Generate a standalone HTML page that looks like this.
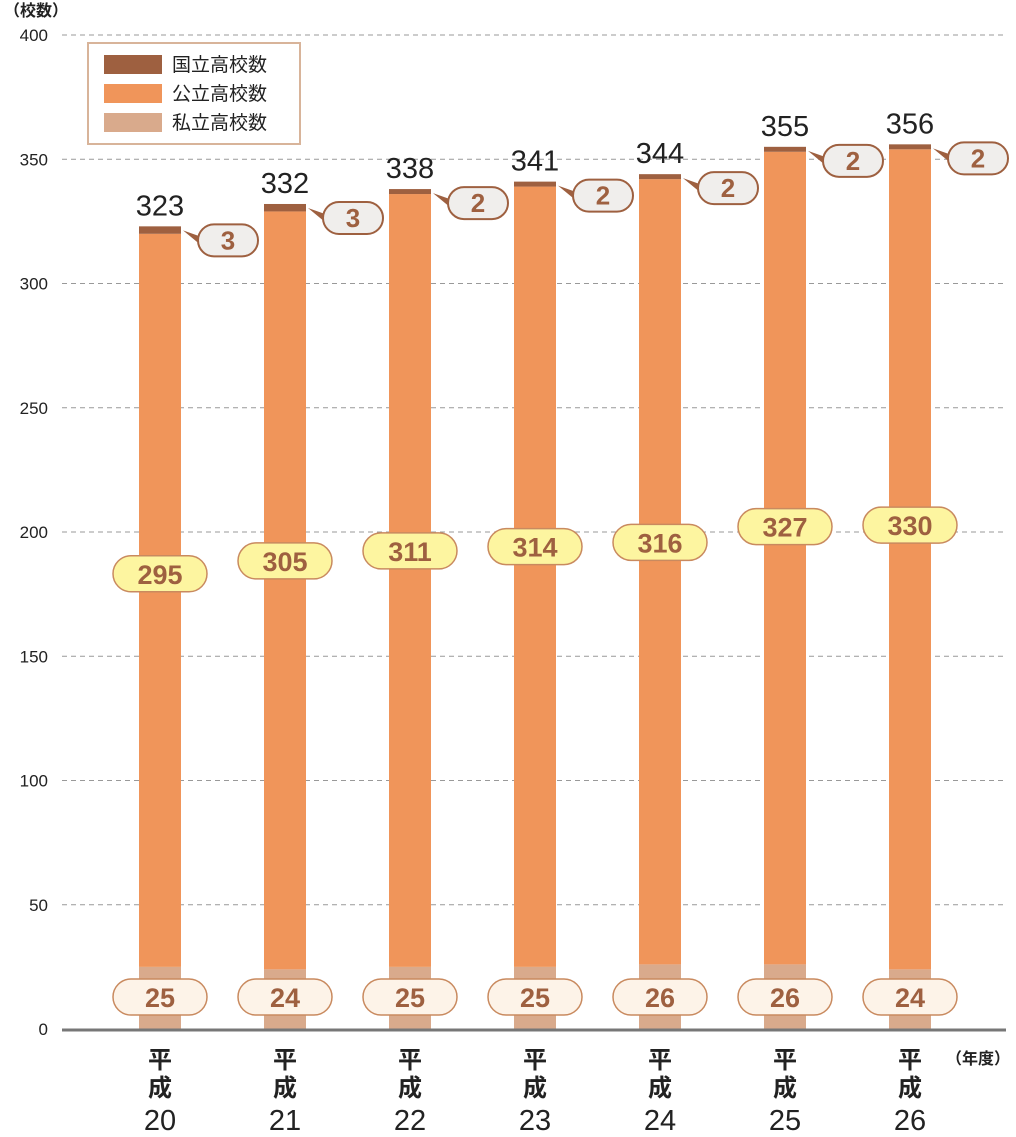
<!DOCTYPE html>
<html><head><meta charset="utf-8"><style>
body{margin:0;background:#fff;}
svg{display:block;font-family:"Liberation Sans","Noto Sans CJK JP",sans-serif;}
</style></head><body>
<svg id="chart" width="1016" height="1137" viewBox="0 0 1016 1137">
<text x="4" y="16" font-size="16" font-weight="bold" fill="#222">（校数）</text>
<g id="grid"></g>
<g id="bars"></g>
<g>
<rect x="88" y="43" width="212" height="101" fill="#fff" stroke="#d8b49a" stroke-width="2"/>
<rect x="104" y="55" width="58" height="19" fill="#9e6040"/>
<text x="172" y="71" font-size="19" fill="#222">国立高校数</text>
<rect x="104" y="84" width="58" height="19" fill="#f0955a"/>
<text x="172" y="100" font-size="19" fill="#222">公立高校数</text>
<rect x="104" y="113" width="58" height="19" fill="#d9aa8c"/>
<text x="172" y="129" font-size="19" fill="#222">私立高校数</text>
</g>
<text x="946" y="1064" font-size="16" font-weight="bold" fill="#222">（年度）</text>
</svg>
<script>
const categories = ["20","21","22","23","24","25","26"];
const nationalVals = [3,3,2,2,2,2,2];
const publicVals = [295,305,311,314,316,327,330];
const privateVals = [25,24,25,25,26,26,24];
const totalVals = [323,332,338,341,344,355,356];
const yTicks = [0,50,100,150,200,250,300,350,400];
const NS="http://www.w3.org/2000/svg";
function y(v){return 1029 - v*2.485;}
function xc(i){return 160 + i*125;}
function mk(p,tag,a,txt){const e=document.createElementNS(NS,tag);for(const k in a)e.setAttribute(k,a[k]);if(txt!==undefined)e.textContent=txt;p.appendChild(e);return e;}
const grid=document.getElementById('grid'), bars=document.getElementById('bars');
yTicks.forEach(t=>{
  if(t>0){const l=mk(grid,'line',{x1:62,x2:1006,y1:y(t),y2:y(t),stroke:'#999','stroke-dasharray':'5,4'});
  
  }
  const tx=mk(grid,'text',{x:48,y:y(t)+6,'font-size':17,fill:'#222','text-anchor':'end'},t);
  
  
});
categories.forEach((c,i)=>{
  const x0=xc(i)-21, w=42;
  const pv=privateVals[i], pu=publicVals[i], na=nationalVals[i];
  const g=mk(bars,'g',{});
  
  
  const r1=mk(g,'rect',{x:x0,y:y(pv),width:w,height:y(0)-y(pv),fill:'#d9aa8c'});
  
  
  const r2=mk(g,'rect',{x:x0,y:y(pv+pu),width:w,height:y(pv)-y(pv+pu),fill:'#f0955a'});
  
  
  const r3=mk(g,'rect',{x:x0,y:y(pv+pu+na),width:w,height:y(pv+pu)-y(pv+pu+na),fill:'#9e6040'});
  
  
  const tt=mk(g,'text',{x:xc(i),y:y(totalVals[i])-11,'font-size':29,fill:'#222','text-anchor':'middle'},totalVals[i]);
  
  
  const ny=y(pv+pu+na)+14, nx=xc(i)+68;
  const tri=mk(g,'path',{d:`M${x0+w+2} ${ny-10} L${nx-28} ${ny-4} L${nx-28} ${ny+4} Z`,fill:'#9e6040'});
  
  
  const cr=mk(g,'rect',{x:nx-30,y:ny-16,width:60,height:32,rx:16,fill:'#f0eeec',stroke:'#9e6040','stroke-width':2});
  
  
  const ct=mk(g,'text',{x:nx,y:ny+9,'font-size':26,'font-weight':'bold',fill:'#9e6040','text-anchor':'middle'},na);
  
  
  const py=y((pv+pu)*0.575)+2;
  const pr=mk(g,'rect',{x:xc(i)-47,y:py-18,width:94,height:36,rx:18,fill:'#fdf5a0',stroke:'#c98a5f','stroke-width':1.5});
  
  
  const pt=mk(g,'text',{x:xc(i),y:py+10,'font-size':27,'font-weight':'bold',fill:'#9e6040','text-anchor':'middle'},pu);
  
  
  const qy=997;
  const qr=mk(g,'rect',{x:xc(i)-47,y:qy-18,width:94,height:36,rx:18,fill:'#fdf3e8',stroke:'#c98a5f','stroke-width':1.5});
  
  
  const qt=mk(g,'text',{x:xc(i),y:qy+10,'font-size':27,'font-weight':'bold',fill:'#9e6040','text-anchor':'middle'},pv);
  
  
  const xl=mk(g,'text',{x:xc(i),y:1068,'font-size':24,'font-weight':'bold',fill:'#222','text-anchor':'middle'},'平');
  
  
  const xl2=mk(g,'text',{x:xc(i),y:1096,'font-size':24,'font-weight':'bold',fill:'#222','text-anchor':'middle'},'成');
  
  
  const xl3=mk(g,'text',{x:xc(i),y:1130,'font-size':29,fill:'#222','text-anchor':'middle'},c);
  
  
});
const ax=mk(bars,'line',{x1:62,x2:1006,y1:y(0)+1,y2:y(0)+1,stroke:'#777','stroke-width':3});


</script>
</body></html>
